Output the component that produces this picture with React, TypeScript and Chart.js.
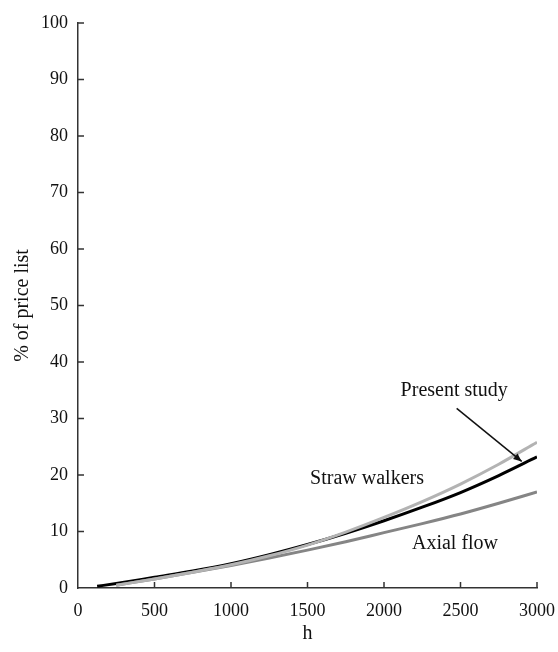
import React, { useEffect, useRef } from "react";
import { Chart, registerables } from "chart.js";

Chart.register(...registerables);

// ---- data ----
const presentHours = [125, 250, 500, 750, 1000, 1250, 1500, 1750, 2000, 2250, 2500, 2750, 3000];
const presentStudy = [0.3, 0.8, 1.9, 3.0, 4.3, 5.9, 7.7, 9.7, 11.9, 14.3, 16.9, 19.9, 23.2];

const otherHours = [250, 500, 750, 1000, 1250, 1500, 1750, 2000, 2250, 2500, 2750, 3000];
const strawWalkers = [0.5, 1.6, 2.8, 4.1, 5.7, 7.6, 9.9, 12.5, 15.3, 18.4, 21.9, 25.8];
const axialFlow = [0.5, 1.6, 2.8, 4.0, 5.3, 6.7, 8.2, 9.8, 11.4, 13.1, 15.0, 17.0];

const xTicks = [0, 500, 1000, 1500, 2000, 2500, 3000];
const yTicks = [0, 10, 20, 30, 40, 50, 60, 70, 80, 90, 100];

const labels = [
  { text: "Present study", h: 2459, v: 35.0 },
  { text: "Straw walkers", h: 1889, v: 19.3 },
  { text: "Axial flow", h: 2464, v: 7.8 },
];
const arrow = { fromH: 2475, fromV: 31.8, toH: 2900, toV: 22.4 };

const FONT = "'Liberation Serif', 'DejaVu Serif', serif";
const FS = 18;
const LFS = 20;
const AXIS = "#333";

const toPts = (xs: number[], ys: number[]) => xs.map((x, i) => ({ x, y: ys[i] }));

const overlay = {
  id: "overlay",
  afterDraw(chart: any) {
    const { ctx, chartArea } = chart;
    const xs = chart.scales.x;
    const ys = chart.scales.y;
    ctx.save();
    // inward ticks
    ctx.strokeStyle = AXIS;
    ctx.lineWidth = 1.5;
    ctx.beginPath();
    xTicks.forEach((t) => {
      if (t === 0) return;
      const px = xs.getPixelForValue(t);
      ctx.moveTo(px, chartArea.bottom);
      ctx.lineTo(px, chartArea.bottom - 6);
    });
    yTicks.forEach((t) => {
      if (t === 0) return;
      const py = ys.getPixelForValue(t);
      ctx.moveTo(chartArea.left, py);
      ctx.lineTo(chartArea.left + 6, py);
    });
    ctx.stroke();

    // annotations
    ctx.fillStyle = "#111";
    ctx.font = `${LFS}px ${FONT}`;
    ctx.textAlign = "center";
    ctx.textBaseline = "middle";
    labels.forEach((l) => {
      ctx.fillText(l.text, xs.getPixelForValue(l.h), ys.getPixelForValue(l.v));
    });

    // arrow
    const x1 = xs.getPixelForValue(arrow.fromH);
    const y1 = ys.getPixelForValue(arrow.fromV);
    const x2 = xs.getPixelForValue(arrow.toH);
    const y2 = ys.getPixelForValue(arrow.toV);
    ctx.strokeStyle = "#111";
    ctx.lineWidth = 1.5;
    ctx.beginPath();
    ctx.moveTo(x1, y1);
    ctx.lineTo(x2, y2);
    ctx.stroke();
    const ang = Math.atan2(y2 - y1, x2 - x1);
    const hl = 9;
    ctx.fillStyle = "#111";
    ctx.beginPath();
    ctx.moveTo(x2, y2);
    ctx.lineTo(x2 - hl * Math.cos(ang - 0.4), y2 - hl * Math.sin(ang - 0.4));
    ctx.lineTo(x2 - hl * Math.cos(ang + 0.4), y2 - hl * Math.sin(ang + 0.4));
    ctx.closePath();
    ctx.fill();

    // axis titles
    ctx.fillStyle = "#111";
    ctx.font = `${LFS}px ${FONT}`;
    ctx.textAlign = "center";
    ctx.textBaseline = "middle";
    ctx.fillText("h", (chartArea.left + chartArea.right) / 2, 634);
    ctx.translate(23, (chartArea.top + chartArea.bottom) / 2);
    ctx.rotate(-Math.PI / 2);
    ctx.fillText("% of price list", 0, 0);
    ctx.restore();
  },
};

export default function App() {
  const ref = useRef<HTMLCanvasElement | null>(null);
  useEffect(() => {
    if (!ref.current) return;
    const chart = new Chart(ref.current, {
      type: "line",
      data: {
        datasets: [
          {
            label: "Straw walkers",
            data: toPts(otherHours, strawWalkers),
            borderColor: "#b3b3b3",
            borderWidth: 3,
            pointRadius: 0,
            cubicInterpolationMode: "monotone",
          },
          {
            label: "Axial flow",
            data: toPts(otherHours, axialFlow),
            borderColor: "#858585",
            borderWidth: 3,
            pointRadius: 0,
            cubicInterpolationMode: "monotone",
          },
          {
            label: "Present study",
            data: toPts(presentHours, presentStudy),
            borderColor: "#000000",
            borderWidth: 3,
            pointRadius: 0,
            cubicInterpolationMode: "monotone",
          },
        ],
      },
      options: {
        responsive: false,
        animation: false,
        layout: { padding: { top: 23, right: 21, left: 0, bottom: 0 } },
        plugins: { legend: { display: false }, tooltip: { enabled: false } },
        scales: {
          x: {
            type: "linear",
            min: 0,
            max: 3000,
            afterFit: (s: any) => {
              s.height = 64;
              s.paddingRight = 0;
              s.paddingLeft = 0;
            },
            afterBuildTicks: (s: any) => {
              s.ticks = xTicks.map((v) => ({ value: v }));
            },
            grid: { display: false, drawTicks: false },
            border: { display: true, color: AXIS, width: 1.5 },
            ticks: {
              padding: 12,
              color: "#111",
              font: { family: FONT, size: FS },
              maxRotation: 0,
              callback: (v: any) => String(v),
            },
          },
          y: {
            type: "linear",
            min: 0,
            max: 100,
            afterFit: (s: any) => {
              s.width = 78;
              s.paddingTop = 0;
              s.paddingBottom = 0;
            },
            afterBuildTicks: (s: any) => {
              s.ticks = yTicks.map((v) => ({ value: v }));
            },
            grid: { display: false, drawTicks: false },
            border: { display: true, color: AXIS, width: 1.5 },
            ticks: {
              padding: 10,
              color: "#111",
              font: { family: FONT, size: FS },
              callback: (v: any) => String(v),
            },
          },
        },
      },
      plugins: [overlay],
    });
    return () => chart.destroy();
  }, []);
  return (
    <div style={{ position: "fixed", left: 0, top: 0, width: 558, height: 652, background: "#fff" }}>
      <canvas ref={ref} width={558} height={652} />
    </div>
  );
}
